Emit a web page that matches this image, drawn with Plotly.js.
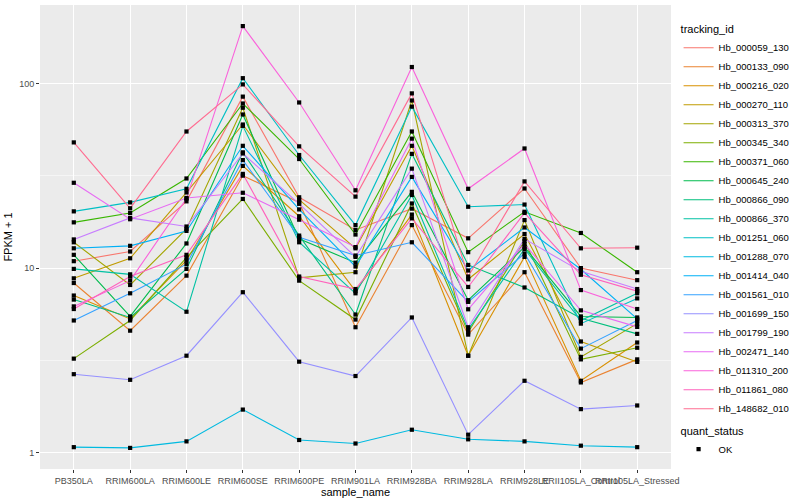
<!DOCTYPE html>
<html><head><meta charset="utf-8">
<script src="https://cdn.plot.ly/plotly-3.0.1.min.js"></script>
<style>html,body{margin:0;padding:0;background:#fff}#chart{width:800px;height:500px}</style>
</head><body><div id="chart"></div>
<script>
const samples = ["PB350LA","RRIM600LA","RRIM600LE","RRIM600SE","RRIM600PE","RRIM901LA","RRIM928BA","RRIM928LA","RRIM928LE","RRII105LA_Control","RRII105LA_Stressed"];
const trackingIds = ["Hb_000059_130","Hb_000133_090","Hb_000216_020","Hb_000270_110","Hb_000313_370","Hb_000345_340","Hb_000371_060","Hb_000645_240","Hb_000866_090","Hb_000866_370","Hb_001251_060","Hb_001288_070","Hb_001414_040","Hb_001561_010","Hb_001699_150","Hb_001799_190","Hb_002471_140","Hb_011310_200","Hb_011861_080","Hb_148682_010"];
const colors = ["#F8766D","#EA8331","#D89000","#C09B00","#A3A500","#7CAE00","#39B600","#00BB4E","#00BF7D","#00C1A3","#00BFC4","#00BAE0","#00B0F6","#35A2FF","#9590FF","#C77CFF","#E76BF3","#FA62DB","#FF62BC","#FF6C91"];

const Hb_000059_130 = [10.9, 12.3, 23.0, 85, 24.2, 16.1, 21, 14.5, 27, 10.0, 8.6];
const Hb_000133_090 = [8.3, 4.58, 9.1, 31.7, 22.7, 4.78, 17.1, 4.36, 9.5, 2.4, 3.2];
const Hb_000216_020 = [7.1, 5.3, 11.0, 35.8, 19.1, 7.5, 19.5, 3.35, 11.5, 2.45, 3.95];
const Hb_000270_110 = [8.8, 11.3, 25.7, 60, 23.5, 12.8, 46, 8.7, 15.3, 4.0, 3.1];
const Hb_000313_370 = [13.8, 8.1, 16.3, 74, 8.85, 9.5, 81, 3.35, 18.2, 3.3, 5.0];
const Hb_000345_340 = [3.23, 5.2, 11.4, 23.7, 8.55, 5.26, 22.4, 4.49, 14.0, 3.2, 3.7];
const Hb_000371_060 = [17.7, 19.9, 30.6, 78, 39, 15.2, 55, 12.2, 20.2, 15.5, 9.5];
const Hb_000645_240 = [11.8, 5.47, 13.6, 68, 14.4, 10.7, 25.9, 6.7, 13.0, 5.47, 5.4];
const Hb_000866_090 = [6.75, 5.4, 9.9, 42.4, 15.0, 5.6, 41.6, 10.4, 7.85, 5.35, 4.4];
const Hb_000866_370 = [9.9, 9.25, 5.8, 59, 13.8, 7.3, 24.9, 4.64, 12.7, 5.2, 7.3];
const Hb_001251_060 = [20.3, 22.7, 26.9, 107, 41, 17.1, 75, 21.5, 22.1, 5.0, 6.85];
const Hb_001288_070 = [1.07, 1.06, 1.15, 1.71, 1.17, 1.12, 1.33, 1.18, 1.15, 1.09, 1.07];
const Hb_001414_040 = [12.8, 13.2, 15.9, 46, 20.8, 10.2, 31.2, 9.7, 16.6, 9.85, 5.3];
const Hb_001561_010 = [5.2, 7.3, 10.5, 38.5, 14.7, 11.7, 13.8, 6.56, 12.0, 3.66, 5.2];
const Hb_001699_150 = [2.66, 2.48, 3.35, 7.4, 3.11, 2.6, 5.4, 1.25, 2.45, 1.72, 1.8];
const Hb_001799_190 = [14.3, 18.7, 16.8, 41.8, 22.3, 11.5, 34.6, 4.78, 14.4, 9.6, 7.7];
const Hb_002471_140 = [29, 18.4, 24, 25.6, 18.3, 13.0, 50.3, 5.98, 13.5, 5.9, 4.8];
const Hb_011310_200 = [6.2, 8.55, 23.8, 205, 79, 26.4, 123, 26.9, 44.5, 7.6, 6.0];
const Hb_011861_080 = [6.0, 9.0, 11.8, 32.4, 9.0, 7.7, 18.6, 7.9, 19.9, 9.2, 7.5];
const Hb_148682_010 = [48, 21.1, 55, 99, 45.7, 24.4, 88.5, 9.0, 29.5, 12.8, 12.9];

const seriesValues = [Hb_000059_130,Hb_000133_090,Hb_000216_020,Hb_000270_110,Hb_000313_370,Hb_000345_340,Hb_000371_060,Hb_000645_240,Hb_000866_090,Hb_000866_370,Hb_001251_060,Hb_001288_070,Hb_001414_040,Hb_001561_010,Hb_001699_150,Hb_001799_190,Hb_002471_140,Hb_011310_200,Hb_011861_080,Hb_148682_010];
const yTicks = [1, 10, 100];
const yTickText = ["1", "10", "100"];

const traces = trackingIds.map((id, i) => ({
  type: "scatter", mode: "lines", name: id,
  x: samples, y: seriesValues[i],
  line: {color: colors[i], width: 1.1},
  legend: "legend", hoverinfo: "skip"
}));
const allX = [], allY = [];
seriesValues.forEach(v => v.forEach((y, j) => { allX.push(samples[j]); allY.push(y); }));
traces.push({
  type: "scatter", mode: "markers", name: "OK",
  x: allX, y: allY,
  marker: {symbol: "square", color: "#000000", size: 4.2},
  legend: "legend2", hoverinfo: "skip"
});

const layout = {
  width: 800, height: 500,
  paper_bgcolor: "#FFFFFF", plot_bgcolor: "#EBEBEB",
  margin: {l: 40, r: 112, t: 5, b: 31},
  font: {family: "Liberation Sans, Arial, sans-serif", color: "#000000", size: 10},
  showlegend: true,
  xaxis: {
    type: "category", categoryorder: "array", categoryarray: samples,
    range: [-0.6, 10.6], showgrid: true, gridcolor: "#FFFFFF", gridwidth: 1.1,
    zeroline: false, showline: false, ticks: "outside", ticklen: 3, tickcolor: "#333333",
    tickangle: 0, tickfont: {size: 9, color: "#4D4D4D"},
    title: {text: "sample_name", font: {size: 11, color: "#000000"}, standoff: 1}
  },
  yaxis: {
    type: "log", range: [-0.089, 2.426],
    tickmode: "array", tickvals: yTicks, ticktext: yTickText,
    showgrid: true, gridcolor: "#FFFFFF", gridwidth: 1.1,
    minor: {tickmode: "array", tickvals: [3.1623, 31.623], showgrid: true, gridcolor: "#FFFFFF", gridwidth: 0.5, ticks: ""},
    zeroline: false, showline: false, ticks: "outside", ticklen: 3, tickcolor: "#333333",
    tickfont: {size: 9, color: "#4D4D4D"},
    title: {text: "FPKM + 1", font: {size: 11, color: "#000000"}, standoff: 4}
  },
  legend: {
    title: {text: "tracking_id", font: {size: 11}},
    x: 1.012, xanchor: "left", y: 0.97, yanchor: "top",
    font: {size: 9.5}, bgcolor: "rgba(0,0,0,0)", tracegroupgap: 0
  },
  legend2: {
    title: {text: "quant_status", font: {size: 11}},
    x: 1.012, xanchor: "left", y: 0.105, yanchor: "top",
    font: {size: 9.5}, bgcolor: "rgba(0,0,0,0)"
  }
};
Plotly.newPlot("chart", traces, layout, {displayModeBar: false, staticPlot: true});
</script></body></html>
